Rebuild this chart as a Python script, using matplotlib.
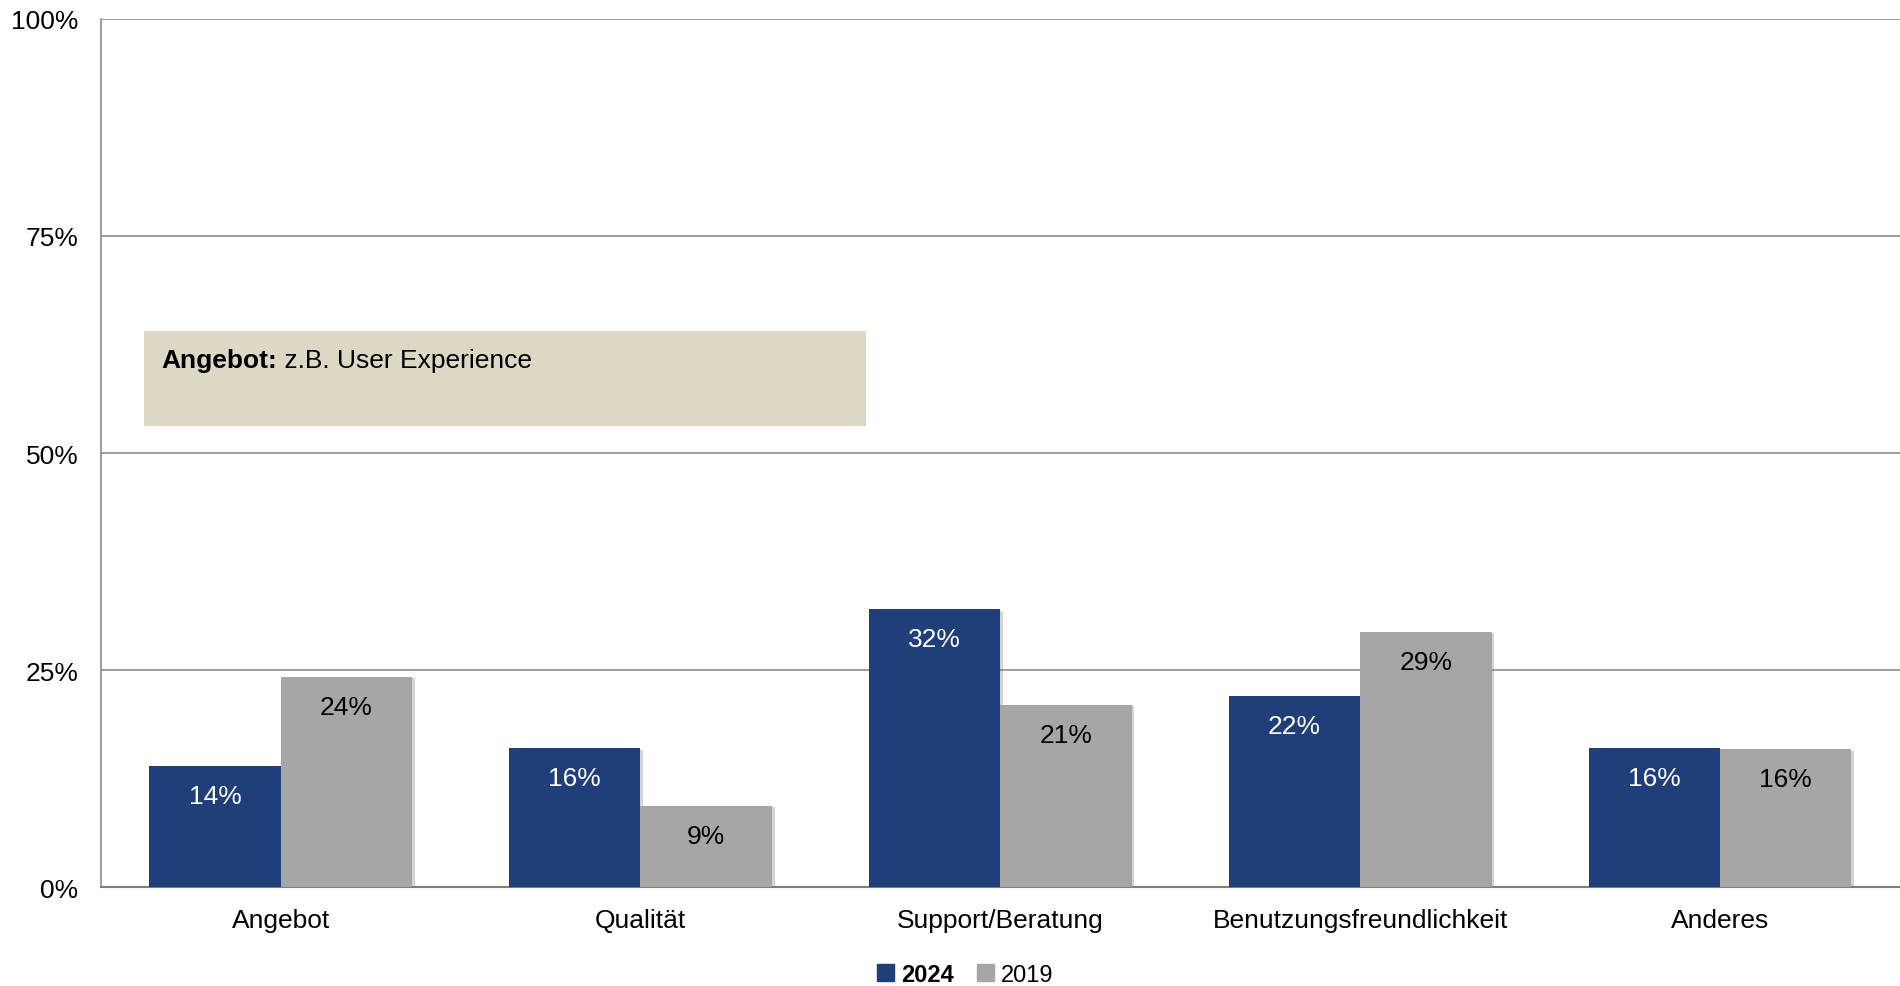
import matplotlib.pyplot as plt
import numpy as np
from matplotlib.patches import Patch, Rectangle
import matplotlib.patheffects as pe

plt.rcParams['font.family'] = ['Liberation Sans', 'DejaVu Sans']

categories = ['Angebot', 'Qualität', 'Support/Beratung', 'Benutzungsfreundlichkeit', 'Anderes']
values_2024 = [14.0, 16.0, 32.0, 22.0, 16.0]
values_2019 = [24.2, 9.4, 21.0, 29.4, 15.9]
series_names = ['2024', '2019']
ytick_values = [0, 25, 50, 75, 100]

navy = '#203F7A'
grey = '#A6A6A6'
grid_col = '#8C8C8C'

fig = plt.figure(figsize=(19, 9.87), dpi=100)
ax = fig.add_axes([0.053, 0.100, 0.947, 0.880])

x = np.arange(len(categories))
w = 0.365
shadow = [pe.SimplePatchShadow(offset=(2, -1), alpha=0.25, shadow_rgbFace='#555555'), pe.Normal()]

b1 = ax.bar(x - w / 2, values_2024, w, color=navy, zorder=3, path_effects=shadow)
b2 = ax.bar(x + w / 2, values_2019, w, color=grey, zorder=3, path_effects=shadow)

for rect, v in zip(b1, values_2024):
    ax.annotate(f'{v:.0f}%', (rect.get_x() + rect.get_width() / 2, rect.get_height()),
                xytext=(0, -13), textcoords='offset points', ha='center', va='top',
                fontsize=19, color='white', zorder=4)
for rect, v in zip(b2, values_2019):
    ax.annotate(f'{v:.0f}%', (rect.get_x() + rect.get_width() / 2, rect.get_height()),
                xytext=(0, -13), textcoords='offset points', ha='center', va='top',
                fontsize=19, color='black', zorder=4)

ax.set_xlim(-0.5, 4.5)
ax.set_ylim(0, 100)
ax.set_yticks(ytick_values)
ax.set_yticklabels([f'{t}%' for t in ytick_values])
ax.set_xticks(x)
ax.set_xticklabels(categories)
ax.tick_params(axis='both', length=0, labelsize=19)
ax.tick_params(axis='x', pad=15)
ax.tick_params(axis='y', pad=16)

ax.yaxis.grid(True, color=grid_col, linewidth=1.2, zorder=0)
ax.set_axisbelow(True)
for side in ['top', 'right']:
    ax.spines[side].set_visible(False)
ax.spines['left'].set_color(grid_col)
ax.spines['left'].set_linewidth(1.2)
ax.spines['bottom'].set_color('#7F7F7F')
ax.spines['bottom'].set_linewidth(1.5)

# note box
ax.add_patch(Rectangle((0.0242, 0.531), 0.401, 0.109, transform=ax.transAxes,
                       facecolor='#DDD8C3', edgecolor='none', zorder=2))
t1 = ax.text(0.0335, 0.607, 'Angebot:', transform=ax.transAxes, fontsize=19,
             fontweight='bold', va='center', ha='left', zorder=3)
ax.annotate(' z.B. User Experience', xy=(1, 0.5), xycoords=t1, va='center', ha='left',
            fontsize=19, zorder=3)

handles = [Patch(color=navy), Patch(color=grey)]
leg = fig.legend(handles, series_names, loc='center', bbox_to_anchor=(0.508, 0.012),
                 ncol=2, frameon=False, fontsize=17, handlelength=0.7, handleheight=0.7,
                 handletextpad=0.3, columnspacing=1.0)
leg.get_texts()[0].set_fontweight('bold')

fig.savefig('out.png', dpi=100)
